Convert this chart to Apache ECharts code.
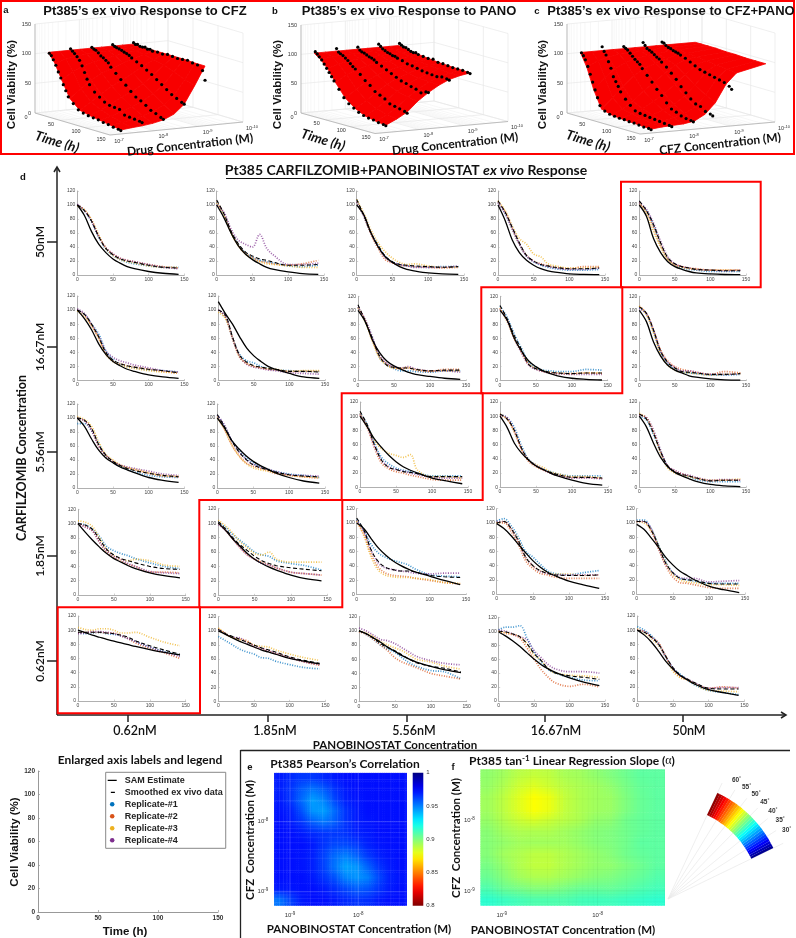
<!DOCTYPE html>
<html><head><meta charset="utf-8">
<style>html,body{margin:0;padding:0;background:#fff}#c{width:796px;height:938px}</style>
<script src="https://cdn.jsdelivr.net/npm/echarts@6/dist/echarts.min.js"></script>
</head><body><div id="c"></div>
<script>
// ---------- panel d: time samples and readings (panels left-to-right, top row first)
const T=[0,10,20,30,40,50,60,70,80,100,120,142];
const SAM=[
[100,85,62,44,32,23,17,12,9,5,2.5,1],[100,82,60,42,30,22,16,11,8,4.5,2,1],[100,86,60,40,26,18,12,8,6,3,1.5,1],[100,78,50,32,21,14,9,6,4,1.5,0.8,0.5],[100,84,52,32,19,12,8,5,3,1.5,0.7,0.4],
[100,88,72,52,37,27,21,16,13,8,5,3],[112,95,80,62,46,35,27,20,16,10,5,3],[100,84,58,40,28,21,16,12,9,6,3.5,2],[100,86,60,42,28,20,14,10,7,3.5,2,1],[100,84,55,35,22,15,11,7,5,2.5,1.2,0.8],
[100,88,70,54,43,36,30,26,22,15,11,8],[100,86,68,56,46,38,32,27,22,15,10,7],[100,85,68,56,45,36,29,24,20,13,9,5],[100,84,62,48,38,30,25,20,16,10,5.5,3],[100,85,62,42,29,21,16,12,8.5,4,2,1],
[100,88,77,67,58,51,46,41,37,31,27,24],[100,90,78,68,58,50,44,39,35,28,23,20],[100,92,78,65,55,47,41,36,32,26,20,14],[99,92,82,70,58,47,38,31,26,18,13,8],[98,91,79,66,52,41,32,26,20,11,6,2],
[100,96.5,93,90,87,84.5,82,79.5,77,72.5,68.5,65],[100,95,90,85,81,77,73,70,67,61,57,53],[100,96,90,84,77,71,65,60,56,50,45,41],[99,93,86,78,69,60,52,46,41,33,27,22],[100,93,83,70,56,45,36,30,24,16,12,8]];
const SMOOTH=[
[100,92,77,55,38,29,23,20,18,14,11,10],[107,88,63,45,33,27,23,21,18,14,14,15],[108,85,60,42,27,19,15,14,13,12,11,12],[106,90,68,46,28,20,15,13,11,9,9,10],[106,92,72,46,25,16,12,10,8,7,6,6],
[100,94,80,62,40,29,24,21,19,16,14,11],[100,93,62,36,26,21,19,17,16,13,13,12],[108,85,60,35,22,19,18,18,16,14,15,15],[107,88,64,44,23,17,14,12,11,10,11,11],[105,96,72,42,26,18,13,12,11,9,9,10],
[100,97,85,62,47,38,32,28,25,21,18,16],[105,88,68,52,41,33,29,26,23,19,17,16],[107,88,60,38,28,25,22,21,19,15,15,15],[103,96,80,55,38,30,25,21,18,14,14,13],[103,96,76,50,30,22,18,16,13,9,10,10],
[100,98,92,78,64,56,51,48,45,40,37,36],[102,92,80,70,62,54,48,44,41,38,36,34],[107,90,62,46,38,35,33,33,32,27,25,24],[100,102,92,75,52,40,33,29,27,26,26,27],[102,102,90,68,44,30,22,20,19,15,14,14],
[97,97,97,97,96,95,93,90,85,78,72,66],[102,96,92,88,84,80,76,73,70,63,58,54],[100,96,90,82,76,72,66,60,55,50,47,42],[100,99,96,92,82,68,58,46,40,36,34,31],[100,97,90,80,63,47,37,31,26,18,17,17]];
const REP1=[
[100,92,76,54,37,28,22,18,16,13,11,11],[104,86,62,44,32,25,21,19,17,13,12,14],[105,84,60,42,26,18,15,13,12,11,12,12],[104,88,66,44,27,19,14,11,9,7,7,8],[103,92,70,44,23,14,10,8,7,5,5,5],
[100,94,80,66,42,30,23,20,18,15,14,12],[100,90,60,37,28,25,20,17,15,14,13,13],[105,85,60,33,23,17,14,14,13,12,14,14],[106,90,66,46,26,18,15,14,13,13,16,15],[104,95,70,40,24,16,12,11,10,8,8,9],
[92,92,82,63,45,37,31,27,23,18,16,15],[104,88,68,54,43,36,30,27,24,20,18,15],[105,88,62,42,33,27,24,22,20,16,16,16],[102,98,84,58,39,31,25,22,19,16,16,16],[100,95,74,50,29,21,17,15,11,8,8,8],
[100,98,92,82,68,62,58,55,51,45,40,37],[100,94,84,76,68,60,56,54,48,44,41,35],[105,90,70,58,52,48,45,42,36,28,26,25],[103,106,96,80,60,52,42,33,29,27,30,33],[104,104,92,70,46,30,22,20,18,15,15,15],
[96,95,96,97,95,94,92,88,84,76,70,65],[92,86,80,74,70,67,62,61,57,52,48,46],[100,95,88,80,74,70,62,55,50,44,42,32],[102,106,106,108,90,70,56,45,40,34,30,29],[105,100,92,80,62,46,38,30,23,15,12,9]];
const REP2=[
[100,93,78,56,39,30,24,21,19,15,12,10],[105,87,62,43,31,25,20,18,16,14,16,21],[105,84,58,38,22,17,14,13,12,11,10,11],[104,90,66,44,28,20,16,13,11,9,12,12],[102,90,68,43,23,15,12,10,9,7,7,7],
[100,93,78,60,38,28,24,21,19,16,13,10],[100,90,60,34,24,20,18,16,15,13,13,13],[105,86,58,34,24,18,17,18,15,13,16,16],[103,86,60,40,23,17,13,11,10,10,11,10],[106,96,72,44,28,20,16,14,12,9,13,11],
[100,96,84,60,46,38,33,29,26,21,17,16],[102,84,62,47,36,31,28,25,21,18,16,14],[102,84,56,34,26,22,20,17,15,11,10,10],[101,96,78,53,36,29,24,20,18,14,14,12],[102,98,78,50,30,23,19,16,13,9,10,10],
[100,96,90,74,60,52,47,43,40,32,32,31],[100,90,78,66,56,50,46,42,38,32,30,28],[102,84,56,38,30,27,26,25,23,20,17,15],[100,100,88,70,47,36,29,27,24,22,22,22],[102,102,88,64,40,24,16,15,13,9,8,8],
[96,97,97,97,96,96,92,88,82,74,68,60],[103,96,90,88,86,78,74,71,68,62,56,51],[99,95,88,80,72,62,56,52,48,40,36,32],[100,97,95,90,76,60,45,34,26,21,24,20],[100,98,90,82,63,45,34,30,25,18,20,18]];
const REP3=[
[99,93,79,57,38,28,22,19,17,13,11,11],[103,85,60,42,30,23,19,16,15,13,11,11],[108,88,64,46,33,24,18,15,16,13,11,12],[106,92,70,52,44,30,26,16,13,10,10,11],[104,88,62,40,22,14,11,9,8,7,7,7],
[99,90,78,60,37,27,22,19,17,14,12,11],[97,88,60,33,24,20,18,17,16,13,14,14],[103,84,56,32,22,18,18,19,16,14,14,14],[103,84,60,42,24,17,14,12,11,10,11,11],[106,94,68,38,22,15,12,11,10,8,9,10],
[102,98,88,66,48,40,33,29,27,22,18,17],[100,84,62,46,35,29,26,24,22,18,16,15],[104,86,66,54,48,45,42,46,24,15,15,13],[103,96,78,54,38,32,28,22,19,15,15,13],[104,97,78,48,27,20,17,15,13,10,10,12],
[104,102,96,80,64,55,50,48,50,48,42,40],[104,96,86,74,66,58,56,60,50,46,46,46],[103,82,52,34,27,25,24,24,23,21,17,16],[100,102,92,76,52,40,33,30,28,28,26,27],[102,100,90,68,44,28,20,17,16,13,13,12],
[104,101,100,102,102,100,96,96,97,90,83,78],[104,96,90,88,84,80,78,77,73,67,62,58],[100,97,92,85,80,76,72,66,60,56,50,46],[100,98,96,92,82,66,58,46,40,37,36,34],[102,96,88,78,62,42,33,30,24,15,14,13]];
const REP4=[
[101,92,77,55,39,30,24,21,19,15,11,9],[100,90,66,50,44,40,58,38,28,15,15,17],[104,84,60,41,25,18,15,13,11,11,11,13],[103,88,66,44,27,19,15,12,10,8,8,10],[104,94,74,48,26,16,12,10,8,7,6,7],
[102,95,80,63,42,33,28,25,22,18,14,12],[100,92,60,34,23,19,17,15,14,11,10,9],[104,87,62,36,25,20,18,20,17,14,14,12],[102,85,60,40,22,16,13,11,10,9,9,9],[103,95,72,42,26,19,14,14,12,9,9,10],
[100,96,82,60,47,38,33,30,28,24,20,18],[104,90,68,52,41,34,30,27,24,19,18,17],[103,86,58,38,29,25,23,20,18,14,13,13],[102,98,80,54,38,31,25,20,17,13,13,12],[102,98,80,52,30,24,19,17,14,10,11,10],
[100,95,90,74,62,54,50,44,40,33,31,30],[98,90,78,66,56,50,44,42,38,32,30,28],[104,88,62,44,37,35,33,32,30,29,30,30],[102,102,92,74,52,40,32,29,27,27,27,27],[102,102,92,66,42,30,23,22,22,17,18,19],
[95,96,98,98,97,95,92,88,84,76,69,63],[102,96,91,90,83,79,75,72,68,62,56,52],[104,100,94,88,86,82,76,70,64,58,54,52],[102,100,96,92,88,72,62,52,46,42,42,40],[100,98,90,80,62,47,36,31,26,18,19,19]];
const ROW_LABELS=['50nM','16.67nM','5.56nM','1.85nM','0.62nM'];
const COL_LABELS=['0.62nM','1.85nM','5.56nM','16.67nM','50nM'];
// ---------- panels a-c: surface and dots
const SURF_T=[0,13,27,43,63,83,103,125,145];
const SURF_U_AB=[.3,.55,.78,1.02,1.26,1.5,1.73,1.97,2.2];
const SURF_U_C=[.3,.55,.78,1.02,1.26,1.5,1.73,1.97,2.2,2.85];
const SURF_A=[
[100,100,100,100,100,100,100,100,100],[85,90,93,95,96,97,98,99,100],[60,72,80,85,89,92,95,97,100],[33,48,60,70,77,84,90,95,100],[18,30,42,53,62,72,82,91,100],[14,22,30,40,48,59,72,87,100],[11,16,22,29,36,47,60,80,100],[8,11,14,19,25,34,48,73,99],[5,7,8.5,11,15,23,38,68,99]];
const SURF_B=[
[100,100,100,100,100,100,100,100,100],[92,95,96,97,97,98,98,98,98],[80,86,90,92,93,94,95,96,96],[60,72,79,84,87,89,91,93,94],[38,52,64,73,79,83,86,89,92],[25,37,50,62,71,77,83,87,90],[17,28,40,54,65,73,80,85,89],[13,23,34,49,62,72,79,84,88],[11,20,30,47,60,71,79,84,87]];
const SURF_C=[
[100,100,100,100,100,100,100,100,100,100],[78,88,92,95,96,97,98,99,99,100],[44,62,76,85,90,93,95,97,98,100],[15,32,50,66,77,84,90,94,96,100],[10,18,30,45,58,72,84,92,95,99],[8,14,22,32,44,58,73,88,93,99],[7,11,16,22,30,43,60,80,91,98],[6,8,11,14,20,30,48,74,89,98],[5,7,8,9,12,22,40,70,87,98]];
const DOT_T=[2,6,10,15,20,25,30,35,40,50,60,70,80,90,100,110,120,130,140,145];
const DOSE_U_AB=[.3,.78,1.26,1.73,2.2];
const DOSE_U_C=[.3,.76,1.24,1.67,2.09];
const DOTS_A=[
[99,96,90,82,72,63,53,44,35,26,18,15,13,12,11,9,8,6,5,4],
[103,100,97,93,88,80,70,60,52,42,36,30,27,26,25,18,17,16,15,14],
[102,100,99,96,92,90,87,84,78,70,62,55,47,40,36,31,25,22,18,16],
[103,101,100,99,98,96,95,93,90,86,82,77,72,66,60,54,48,44,40,38],
[103,101,102,100,100,101,99,100,98,99,98,100,99,98,99,100,98,97,90,75]];
const DOTS_B=[
[103,100,96,92,86,80,74,68,62,50,38,30,25,20,17,15,14,12,11,10],
[105,100,98,96,93,90,86,82,79,72,64,58,50,46,42,36,34,32,30,28],
[104,100,98,97,95,93,92,90,87,83,79,75,71,67,65,62,60,56,60,60],
[106,103,100,98,96,95,93,93,91,89,86,85,83,81,80,79,78,80,79,78],
[104,102,100,100,98,96,95,96,94,93,92,93,90,90,89,88,88,88,87,86]];
const DOTS_C=[
[100,96,90,80,68,56,44,32,20,13,10,9,8,8,7,7,6,5,5,4],
[107,100,95,85,75,62,55,48,40,30,22,15,13,12,11,10,9,8,7,6],
[104,102,100,96,92,88,85,82,76,67,58,48,40,30,22,19,15,13,12,11],
[108,104,100,98,96,93,90,88,84,78,70,62,52,44,36,30,28,22,20,18],
[106,105,102,100,99,97,96,95,93,90,86,82,78,76,74,72,70,68,64,60]];
const Z_TICKS=[0,50,100,150], T_TICKS=[0,50,100,150], U_EXP=[-7,-8,-9,-10];
// ---------- panels e,f: matrices (top row first)
const PEARSON=[
[970,967,964,964,967,970,972,972,972,972,972,972],
[969,965,957,952,957,965,970,972,972,972,972,972],
[970,965,954,944,949,961,969,971,972,972,972,972],
[971,969,959,946,944,954,965,970,972,972,972,972],
[972,970,965,957,952,957,965,970,971,972,972,972],
[972,972,970,967,965,964,965,969,970,972,972,972],
[972,972,972,970,965,961,961,964,969,971,972,972],
[972,972,971,969,962,954,950,956,964,969,971,972],
[972,972,971,969,962,952,943,946,956,965,970,972],
[972,972,972,970,965,959,949,946,950,961,969,971],
[970,971,972,972,970,966,961,957,959,965,970,972],
[952,962,970,972,972,970,967,965,966,970,972,972]];
const SLOPE=[
[45.5,46,46.7,47,46.8,46.2,46,45.5,45,44.5,44,44],
[45.7,46.4,47.3,47.8,47.3,46.7,46.3,46,45.5,44.8,44.2,44],
[46,46.8,47.8,48.7,48.2,47,46.4,46,45.8,45,44.3,44],
[46,46.8,47.8,48.7,48.2,47,46.4,46,45.8,45,44.3,44],
[45.7,46.5,47.2,47.6,47.2,46.7,46.3,45.6,45.4,44.6,44.2,44],
[45.3,46,46.4,46.4,46.4,46,45.6,45.2,45,44.6,44.2,44],
[45.2,45.6,46,46,46,46,45.6,45.2,45,44.6,44,44],
[45.2,46,46.4,46.8,46.8,46.4,46,45.6,45.2,44.6,44.2,44],
[44.8,45.6,46.4,46.9,46.9,46.4,46,45.6,45.5,45,44.5,44],
[44.4,45.2,46,46.4,46.4,46,45.6,45.2,45,44.6,44.2,43.7],
[43.6,44.4,44.8,45.2,45.2,44.8,44.4,44.3,44.3,44,43.6,43.3],
[42.6,43,43.3,43.6,43.6,43.6,43.3,43.2,43.2,43,42.8,42.6]];
const FAN_TICKS=[30,35,40,45,50,55,60];
const LEGEND_NAMES=['SAM Estimate','Smoothed ex vivo data','Replicate-#1','Replicate-#2','Replicate-#3','Replicate-#4'];
const REP_COLORS=['#0072BD','#D95319','#EDB120','#7E2F8E'];

// ---------- layout (no data below)
const BOXES=[
[77.3,184.3,191,275],[216.7,324,191,275],[356.7,464,191,275],[498,605,191,275],[639.3,746,191,275],
[77.3,184.3,296,380.5],[218.3,325,296,380.5],[358,466,296.3,380.7],[500,607.7,296.3,380.7],[639.3,746,296.3,380.7],
[77.3,184.3,404,488],[217.3,325,404,488],[360,468,402,487.3],[500,608,402,487.3],[639.3,746,402,487.3],
[78,185.7,509.3,595],[218.3,327.3,508.7,595.3],[356.7,466,508.7,594.7],[496.7,605,508.7,594],[636.7,745,508.7,594],
[78,185.7,616,701],[218.3,325.3,616.7,701.3],[359,466.7,616.7,701.7],[498.7,605,617.3,701],[637.3,744.3,616,701]];
const LAT='Lato', ARI='"Liberation Sans"';
const clamp=x=>Math.max(0,Math.min(1,x));
function jet(f){const h=v=>Math.round(255*clamp(1.5-Math.abs(4*f-v)));return `rgb(${h(3)},${h(2)},${h(1)})`;}
const jetE=v=>jet((1-v)/.2), jetF=v=>jet((v-30)/30);

const grids=[],xAxes=[],yAxes=[],series=[];
const NOSHOW={show:false};
grids.push({left:0,top:0,width:796,height:938});
xAxes.push({type:'value',min:0,max:796,show:false,gridIndex:0});
yAxes.push({type:'value',min:0,max:938,inverse:true,show:false,gridIndex:0});

const smallAxis=(extra)=>Object.assign({type:'value',axisLine:{show:true,onZero:false,lineStyle:{color:'#b0b0b0',width:1}},
  axisTick:{show:true,inside:true,length:1.5,lineStyle:{color:'#b0b0b0',width:.6}},
  axisLabel:{fontSize:5,color:'#444',margin:2,fontFamily:ARI,hideOverlap:false,showMinLabel:true,showMaxLabel:true},splitLine:NOSHOW},extra);

BOXES.forEach((b,i)=>{
  const g=grids.length;
  grids.push({left:b[0],top:b[2],width:b[1]-b[0],height:b[3]-b[2]});
  xAxes.push(smallAxis({gridIndex:g,min:0,max:150,interval:50}));
  yAxes.push(smallAxis({gridIndex:g,min:0,max:120,interval:20}));
  const mk=(arr,name,ls,z)=>({type:'line',name,xAxisIndex:g,yAxisIndex:g,symbol:'none',smooth:.35,silent:true,animation:false,z,
    data:T.map((t,k)=>[t,arr[i][k]]),lineStyle:ls,itemStyle:{color:ls.color}});
  [REP1,REP2,REP3,REP4].forEach((r,k)=>series.push(mk(r,LEGEND_NAMES[k+2],{color:REP_COLORS[k],width:1.7,type:[1,1.5],opacity:.75},2)));
  series.push(mk(SMOOTH,LEGEND_NAMES[1],{color:'#000',width:1.1,type:[4,2.5]},3));
  series.push(mk(SAM,LEGEND_NAMES[0],{color:'#000',width:1.3,type:'solid'},4));
});
// legend-panel axes
{const g=grids.length;grids.push({left:38,top:771,width:180,height:141});
 const lab={fontSize:6.5,fontWeight:'bold',color:'#333',margin:3,fontFamily:ARI};
 const ln={show:true,onZero:false,lineStyle:{color:'#999',width:1}},tk={show:true,inside:true,length:2,lineStyle:{color:'#999',width:.7}};
 xAxes.push({type:'value',gridIndex:g,min:0,max:150,interval:50,axisLine:ln,axisTick:tk,axisLabel:lab,splitLine:NOSHOW});
 yAxes.push({type:'value',gridIndex:g,min:0,max:120,interval:20,axisLine:ln,axisTick:tk,axisLabel:lab,splitLine:NOSHOW});}

// ---------- 3D panels
function makeProj(ox,oy,tv,uv,zh){return (t,u,z)=>[ox+t/150*tv[0]+u/3*uv[0], oy+t/150*tv[1]+u/3*uv[1]-z/150*zh];}
const P3=[
 {p:makeProj(35,113,[75,22],[133,-13],89),surf:SURF_A,su:SURF_U_AB,dots:DOTS_A,du:DOSE_U_AB},
 {p:makeProj(301,113,[74,20.5],[133,-12],88),surf:SURF_B,su:SURF_U_AB,dots:DOTS_B,du:DOSE_U_AB},
 {p:makeProj(567,113,[73,21],[135,-12],89),surf:SURF_C,su:SURF_U_C,dots:DOTS_C,du:DOSE_U_C}];
const lineItem=(api)=>{const a=api.coord([api.value(0),api.value(1)]),b=api.coord([api.value(2),api.value(3)]);
  return {type:'line',shape:{x1:a[0],y1:a[1],x2:b[0],y2:b[1]},style:{stroke:['#f3f3f3','#e8e8e8','#a8a8a8'][api.value(4)],lineWidth:.7},silent:true};};
P3.forEach(P=>{
  const wires=[],p=P.p,add=(a,b,k)=>wires.push([a[0],a[1],b[0],b[1],k]);
  const us=[];for(let k=0;k<3;k++)for(let d=1;d<10;d++){us.push([k+1-Math.log10(d),d===1?1:0]);}us.push([0,1]);
  us.forEach(([u,k])=>{add(p(0,u,0),p(150,u,0),k);add(p(0,u,0),p(0,u,150),k);});
  Z_TICKS.forEach(z=>{add(p(0,0,z),p(0,3,z),1);add(p(0,3,z),p(150,3,z),1);});
  T_TICKS.forEach(t=>{add(p(t,0,0),p(t,3,0),1);add(p(t,3,0),p(t,3,150),1);});
  add(p(0,0,0),p(150,0,0),2);add(p(150,0,0),p(150,3,0),2);add(p(0,0,0),p(0,0,150),2);
  series.push({type:'custom',xAxisIndex:0,yAxisIndex:0,silent:true,animation:false,z:1,data:wires,renderItem:(x,api)=>lineItem(api)});
  const quads=[];
  for(let i=0;i<SURF_T.length-1;i++)for(let j=0;j<P.su.length-1;j++){
    const a=p(SURF_T[i],P.su[j],P.surf[i][j]),b=p(SURF_T[i],P.su[j+1],P.surf[i][j+1]),c=p(SURF_T[i+1],P.su[j+1],P.surf[i+1][j+1]),d=p(SURF_T[i+1],P.su[j],P.surf[i+1][j]);
    quads.push([...a,...b,...c,...d]);}
  series.push({type:'custom',xAxisIndex:0,yAxisIndex:0,silent:true,animation:false,z:5,data:quads,
    renderItem:(x,api)=>{const pts=[0,2,4,6].map(k=>api.coord([api.value(k),api.value(k+1)]));
      return {type:'polygon',shape:{points:pts},style:{fill:'#f80000',stroke:'#f80000',lineWidth:.8}};}});
  const dots=[];P.dots.forEach((row,d)=>row.forEach((z,k)=>dots.push(p(DOT_T[k],P.du[d],z))));
  series.push({type:'scatter',xAxisIndex:0,yAxisIndex:0,silent:true,animation:false,z:6,symbolSize:3.2,itemStyle:{color:'#000',opacity:1},data:dots});
});

// ---------- matrices e,f (shaded like a MATLAB interpolated surface)
function matPanel(box,xr,yr,mat,colorFn,gridColor,scale){
  const g=grids.length;
  grids.push({left:box[0],top:box[1],width:box[2]-box[0],height:box[3]-box[1]});
  const rich={b:{fontSize:6,color:'#333',fontFamily:ARI},s:{fontSize:4.5,color:'#333',fontFamily:ARI,verticalAlign:'top',padding:[0,0,3,0]}};
  const lab={customValues:[-9,-8],formatter:v=>`{b|10}{s|${Math.round(v)}}`,rich,margin:6};
  xAxes.push({type:'value',gridIndex:g,min:xr[0],max:xr[1],axisLine:NOSHOW,axisTick:NOSHOW,splitLine:NOSHOW,axisLabel:lab});
  yAxes.push({type:'value',gridIndex:g,min:yr[0],max:yr[1],axisLine:NOSHOW,axisTick:NOSHOW,splitLine:NOSHOW,axisLabel:lab});
  const R=mat.length,C=mat[0].length,cells=[],N=5;
  for(let r=0;r<R;r++)for(let c=0;c<C;c++)cells.push([c,r,mat[r][c]*scale]);
  const val=(r,c)=>mat[Math.max(0,Math.min(R-1,r))][Math.max(0,Math.min(C-1,c))]*scale;
  const shade=(rf,cf)=>{const r0=Math.floor(rf),c0=Math.floor(cf),a=rf-r0,b=cf-c0;
    return (1-a)*((1-b)*val(r0,c0)+b*val(r0,c0+1))+a*((1-b)*val(r0+1,c0)+b*val(r0+1,c0+1));};
  const cx=c=>xr[0]+(xr[1]-xr[0])*c/C, cy=r=>yr[1]-(yr[1]-yr[0])*r/R;
  series.push({type:'custom',xAxisIndex:g,yAxisIndex:g,silent:true,animation:false,z:2,data:cells,clip:true,
    renderItem:(x,api)=>{const c=api.value(0),r=api.value(1),children=[];
      for(let i=0;i<N;i++)for(let j=0;j<N;j++){
        const a=api.coord([cx(c+j/N),cy(r+i/N)]),b=api.coord([cx(c+(j+1)/N),cy(r+(i+1)/N)]);
        children.push({type:'rect',shape:{x:a[0]-.3,y:a[1]-.3,width:b[0]-a[0]+.6,height:b[1]-a[1]+.6},style:{fill:colorFn(shade(r+(i+.5)/N-.5,c+(j+.5)/N-.5))}});}
      return {type:'group',children};}});
  const logs=[];for(let k=-10;k<=-7;k++)for(let d=1;d<10;d++){logs.push(k+Math.log10(d));}
  const lines=[];logs.forEach(q=>{if(q>xr[0]&&q<xr[1])lines.push([q,yr[0],q,yr[1],Number.isInteger(q)?1:0]);if(q>yr[0]&&q<yr[1])lines.push([xr[0],q,xr[1],q,Number.isInteger(q)?1:0]);});
  series.push({type:'custom',xAxisIndex:g,yAxisIndex:g,silent:true,animation:false,z:4,data:lines,
    renderItem:(x,api)=>{const a=api.coord([api.value(0),api.value(1)]),b=api.coord([api.value(2),api.value(3)]);
      return {type:'line',shape:{x1:a[0],y1:a[1],x2:b[0],y2:b[1]},style:{stroke:gridColor[api.value(4)],lineWidth:.7}};}});
}
matPanel([274.3,772.7,406.7,905.7],[-9.23,-7.29],[-9.2,-7.3],PEARSON,jetE,['rgba(255,255,255,.12)','rgba(255,255,255,.3)'],.001);
matPanel([480.7,769.3,664.7,905.7],[-9.22,-7.3],[-9.21,-7.28],SLOPE,jetF,['rgba(0,0,0,.04)','rgba(0,0,0,.08)'],1);
// colorbar
{const g=grids.length;grids.push({left:412.7,top:772.7,width:10.6,height:133});
 xAxes.push({type:'value',gridIndex:g,min:0,max:1,show:false});
 yAxes.push({type:'value',gridIndex:g,min:.8,max:1,interval:.05,position:'right',axisLine:NOSHOW,axisTick:NOSHOW,splitLine:NOSHOW,
   axisLabel:{fontSize:6,color:'#333',margin:3,fontFamily:ARI,formatter:v=>String(+v.toFixed(2))}});
 const stops=[];for(let k=0;k<=20;k++)stops.push({offset:k/20,color:jet(k/20)});
 series.push({type:'custom',xAxisIndex:g,yAxisIndex:g,silent:true,animation:false,data:[[0,1,1,.8]],
   renderItem:(x,api)=>{const a=api.coord([api.value(0),api.value(1)]),b=api.coord([api.value(2),api.value(3)]);
     return {type:'rect',shape:{x:a[0],y:a[1],width:b[0]-a[0],height:b[1]-a[1]},style:{fill:{type:'linear',x:0,y:0,x2:0,y2:1,colorStops:stops}}};}});}
// fan colour key
{const AX=668,AY=899,ang=v=>(25.8+(v-30)*39.2/30)*Math.PI/180;
 const levels=[];for(let v=30;v<60;v++)levels.push(v);
 const spokes=[];FAN_TICKS.forEach(v=>{spokes.push([AX,AY,AX+128*Math.cos(ang(v)),AY-128*Math.sin(ang(v)),1]);});
 series.push({type:'custom',xAxisIndex:0,yAxisIndex:0,silent:true,animation:false,z:1,data:spokes,renderItem:(x,api)=>lineItem(api)});
 series.push({type:'custom',xAxisIndex:0,yAxisIndex:0,silent:true,animation:false,z:2,data:levels.map(v=>[AX,AY,v]),
   renderItem:(x,api)=>{const c=api.coord([api.value(0),api.value(1)]),v=api.value(2);
     return {type:'sector',shape:{cx:c[0],cy:c[1],r0:92.5,r:117,startAngle:-ang(v+1.05),endAngle:-ang(v),clockwise:true},style:{fill:jetF(v+.5)}};}});
}

// ---------- text and rules
const G=[];
const TX=(text,x,y,o={})=>G.push({type:'text',x,y,rotation:o.rot||0,z:50,silent:true,style:{text,fontSize:o.fs||12,fontWeight:o.w||'bold',fontStyle:o.st||'normal',fontFamily:o.f||LAT,fill:o.c||'#111',align:o.a||'center',verticalAlign:'middle',rich:o.rich}});
const LN=(x1,y1,x2,y2,c='#222',w=1.5)=>G.push({type:'line',z:40,silent:true,shape:{x1,y1,x2,y2},style:{stroke:c,lineWidth:w}});
const RC=(x,y,w,h,c='#f00',lw=2)=>G.push({type:'rect',z:45,silent:true,shape:{x,y,width:w,height:h},style:{fill:'none',stroke:c,lineWidth:lw}});
const PL=(pts,c='#222',w=1.5)=>G.push({type:'polyline',z:40,silent:true,shape:{points:pts},style:{stroke:c,lineWidth:w,fill:'none'}});
RC(1,1,793,153);
[[621,181.7,139.7,105.6],[481.3,287.3,141,106],[341.7,393.3,141,106.7],[199.3,500,143,107.3],[57.7,607.3,142.3,106]].forEach(r=>RC(...r));
const TITLES=[['Pt385\u2019s ex vivo Response to CFZ',145],['Pt385\u2019s ex vivo Response to PANO',409],['Pt385\u2019s ex vivo Response to CFZ+PANO',671]];
TITLES.forEach(([s,x])=>TX(s,x,11,{f:ARI,fs:13}));
[['a',6,10],['b',275,11],['c',537,11],['d',23,177],['e',250,767],['f',453,767]].forEach(([s,x,y])=>TX(s,x,y,{f:ARI,fs:9.5}));
const pxl=[12,278,543], tim=[[57,142],[323,140],[588,141]], con=[[190,145],[455,144],[720,144]], conName=['Drug Concentration (M)','Drug Concentration (M)','CFZ Concentration (M)'];
const supRich={b:{fontSize:5.5,fontFamily:ARI,fill:'#333'},s:{fontSize:4,fontFamily:ARI,fill:'#333',padding:[0,0,3,0]}};
P3.forEach((P,i)=>{
  TX('Cell Viability (%)',pxl[i],84.5,{f:ARI,fs:11.5,rot:Math.PI/2});
  TX('Time (h)',tim[i][0],tim[i][1],{fs:13.5,st:'italic',rot:-.3});
  TX(conName[i],con[i][0],con[i][1],{fs:12,rot:.11});
  Z_TICKS.forEach(z=>{const q=P.p(0,0,z);TX(String(z),q[0]-4,q[1],{f:ARI,fs:5.5,w:'normal',a:'right',c:'#333'});});
  T_TICKS.forEach(t=>{const q=P.p(t,0,0);TX(String(t),q[0]-9,q[1]+4,{f:ARI,fs:5.5,w:'normal',c:'#333'});});
  U_EXP.forEach((e,k)=>{const q=P.p(150,k,0);TX(`{b|10}{s|${e}}`,q[0]+9,q[1]+6,{f:ARI,fs:5.5,w:'normal',rich:supRich});});
});
// panel d frame
TX('{a|Pt385 CARFILZOMIB+PANOBINIOSTAT }{i|ex vivo}{a| Response}',406,170,{rich:{a:{fontFamily:LAT,fontWeight:'bold',fontSize:14,fill:'#111'},i:{fontFamily:LAT,fontWeight:'bold',fontStyle:'italic',fontSize:14,fill:'#111'}}});
LN(226,178.5,585,178.5,'#111',1.2);
LN(57,168,57,715);PL([[54,172],[57,167],[60,172]]);
LN(57,715,786,715);PL([[781,712],[786,715],[781,718]]);
[242,347,452,556,661].forEach((y,i)=>{LN(47,y,57,y);TX(ROW_LABELS[i],40,y,{fs:12,rot:Math.PI/2,w:'600'});});
[[128,135],[268,275],[407,414],[545,556],[683,689]].forEach(([t,c],i)=>{LN(t,715,t,722);TX(COL_LABELS[i],c,731,{fs:12.5,w:'600'});});
TX('CARFILZOMIB Concentration',22,458,{fs:12.5,rot:Math.PI/2});
TX('PANOBINOSTAT Concentration',395,745,{fs:11.5});
// legend panel text
TX('Enlarged axis labels and legend',140,760,{fs:12});
TX('Cell Viability (%)',15,842,{f:ARI,fs:11.5,rot:Math.PI/2});
TX('Time (h)',125,932,{f:ARI,fs:11.5});
// e,f text
LN(240.5,750,240.5,938,'#222',1.3);LN(240.5,750.5,790,750.5,'#222',1.3);
TX('Pt385 Pearson\u2019s Correlation',345,764,{fs:12});
TX('{a|Pt385 tan}{s|-1}{a| Linear Regression Slope (}{g|\u03b1}{a|)}',572,761,{rich:{a:{fontFamily:LAT,fontWeight:'bold',fontSize:12,fill:'#111'},s:{fontFamily:LAT,fontWeight:'bold',fontSize:8,fill:'#111',padding:[0,0,5,0]},g:{fontFamily:'"Liberation Serif"',fontSize:12,fill:'#111'}}});
TX('CFZ  Concentration (M)',250,840,{fs:11.5,rot:Math.PI/2});
TX('CFZ  Concentration (M)',456,838,{fs:11.5,rot:Math.PI/2});
TX('PANOBINOSTAT Concentration (M)',359,929,{fs:11.5});
TX('PANOBINOSTAT Concentration (M)',563,930,{fs:11.5});
FAN_TICKS.forEach(v=>{const a=v*Math.PI/180;TX(`{a|${v}}{s|\u00b0}`,668+137*Math.cos(a),899-137*Math.sin(a),{f:ARI,fs:6,rich:{a:{fontSize:6.5,fontWeight:'bold',fontFamily:ARI,fill:'#333'},s:{fontSize:5,fontFamily:ARI,fill:'#333',padding:[0,0,3,0]}}});});

const BBOX='M0,0H.01V10H0Z ';
const chart=echarts.init(document.getElementById('c'),null,{renderer:'canvas'});
chart.setOption({animation:false,backgroundColor:'#fff',grid:grids,xAxis:xAxes,yAxis:yAxes,series,graphic:{elements:G},
  legend:{left:105.7,top:772.3,orient:'vertical',selectedMode:false,padding:[3,3,3,2],itemGap:2,itemWidth:15,itemHeight:4.5,align:'left',
    borderColor:'#888',borderWidth:1,backgroundColor:'#fff',z:30,
    textStyle:{fontSize:9,fontWeight:'bold',fontFamily:ARI,color:'#222',lineHeight:10},
    data:[{name:LEGEND_NAMES[0],icon:'path://'+BBOX+'M0,4H20V6.5H0Z'},{name:LEGEND_NAMES[1],icon:'path://'+BBOX+'M3,4H12V6.5H3Z'},
      ...[2,3,4,5].map(k=>({name:LEGEND_NAMES[k],icon:'circle'}))]}});
</script></body></html>
